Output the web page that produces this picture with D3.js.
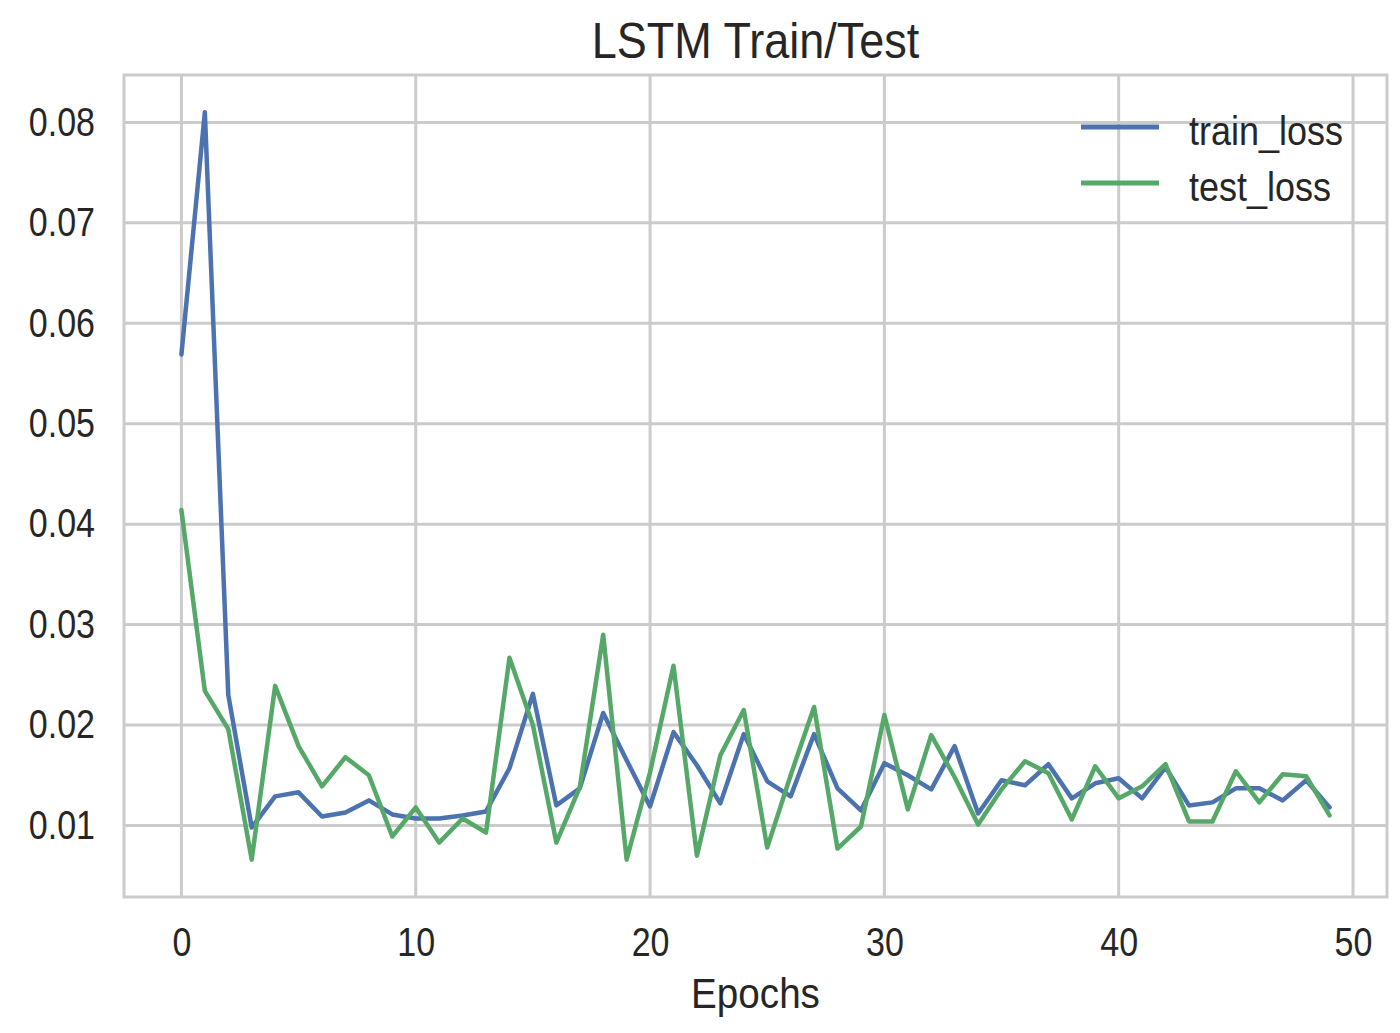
<!DOCTYPE html>
<html lang="en">
<head>
<meta charset="UTF-8">
<title>LSTM Train/Test</title>
<script src="https://d3js.org/d3.v7.min.js"></script>
<style>
  body { margin: 0; background: #fff; }
  svg { display: block; }
  text { font-family: "Liberation Sans", Arial, sans-serif; fill: #262626; }
  .grid line { stroke: #cbcbcb; stroke-width: 3; }
  .axis path, .axis line { display: none; }
</style>
</head>
<body>
<script>
// values, one per epoch
var trainLoss = [0.0569, 0.0810, 0.0230, 0.0098, 0.0129, 0.0133, 0.0109, 0.0113, 0.0125, 0.0111,
                 0.0107, 0.0107, 0.0110, 0.0114, 0.0157, 0.0231, 0.0120, 0.0137, 0.0212, 0.0165,
                 0.0119, 0.0193, 0.0160, 0.0122, 0.0191, 0.0144, 0.0129, 0.0191, 0.0137, 0.0115,
                 0.0162, 0.0150, 0.0136, 0.0179, 0.0112, 0.0145, 0.0140, 0.0161, 0.0127, 0.0142,
                 0.0147, 0.0127, 0.0158, 0.0120, 0.0123, 0.0137, 0.0137, 0.0125, 0.0145, 0.0118];
var testLoss  = [0.0414, 0.0234, 0.0196, 0.0066, 0.0239, 0.0179, 0.0139, 0.0168, 0.0150, 0.0089,
                 0.0118, 0.0083, 0.0107, 0.0093, 0.0267, 0.0200, 0.0083, 0.0138, 0.0290, 0.0066,
                 0.0153, 0.0259, 0.0070, 0.0170, 0.0215, 0.0078, 0.0150, 0.0218, 0.0077, 0.0099,
                 0.0210, 0.0116, 0.0190, 0.0148, 0.0101, 0.0136, 0.0164, 0.0152, 0.0106, 0.0159,
                 0.0127, 0.0139, 0.0161, 0.0104, 0.0104, 0.0154, 0.0123, 0.0151, 0.0149, 0.0110];
var seriesNames = ["train_loss", "test_loss"];
var xTicks = [0, 10, 20, 30, 40, 50];
var yTicks = [0.01, 0.02, 0.03, 0.04, 0.05, 0.06, 0.07, 0.08];

var W = 1400, H = 1033;
var margin = {top: 75, right: 13, bottom: 136, left: 124},
    w = W - margin.left - margin.right,
    h = H - margin.top - margin.bottom;
var colors = ["#4c72b0", "#55a868"];

var n = trainLoss.length;
var all = trainLoss.concat(testLoss);
var ymin = d3.min(all), ymax = d3.max(all);
var padX = 0.05 * (n - 1), padY = 0.05 * (ymax - ymin);

var x = d3.scaleLinear().domain([-padX, n - 1 + padX]).range([0, w]);
var y = d3.scaleLinear().domain([ymin - padY, ymax + padY]).range([h, 0]);

var svg = d3.select("body").append("svg")
    .attr("width", W)
    .attr("height", H);
var g = svg.append("g")
    .attr("transform", "translate(" + margin.left + "," + margin.top + ")");

// grid
g.append("g").attr("class", "grid")
  .selectAll("line.v").data(xTicks).enter().append("line")
    .attr("x1", function(d) { return x(d); }).attr("x2", function(d) { return x(d); })
    .attr("y1", 0).attr("y2", h);
g.select(".grid")
  .selectAll("line.h").data(yTicks).enter().append("line")
    .attr("y1", function(d) { return y(d); }).attr("y2", function(d) { return y(d); })
    .attr("x1", 0).attr("x2", w);

g.append("rect")
  .attr("width", w).attr("height", h)
  .attr("fill", "none").attr("stroke", "#cbcbcb").attr("stroke-width", 3);

// axes (labels only)
var xAxis = d3.axisBottom(x).tickValues(xTicks).tickSize(0).tickPadding(31).tickFormat(d3.format("d"));
var yAxis = d3.axisLeft(y).tickValues(yTicks).tickSize(0).tickFormat(d3.format(".2f"));

g.append("g").attr("class", "x axis")
  .attr("transform", "translate(0," + h + ")")
  .call(xAxis)
  .selectAll("text")
    .style("font-size", "40px")
    .attr("transform", "scale(0.85,1)");

g.append("g").attr("class", "y axis")
  .call(yAxis)
  .selectAll("text")
    .style("font-size", "40px")
    .attr("x", -29 / 0.85)
    .attr("transform", "scale(0.85,1)");

g.selectAll(".axis text").attr("fill", "#262626").style("font-family", "'Liberation Sans', Arial, sans-serif");

// lines
var line = d3.line()
  .x(function(d, i) { return x(i); })
  .y(function(d) { return y(d); });

[trainLoss, testLoss].forEach(function(s, k) {
  g.append("path")
    .datum(s)
    .attr("fill", "none")
    .attr("stroke", colors[k])
    .attr("stroke-width", 4.5)
    .attr("stroke-linejoin", "round")
    .attr("stroke-linecap", "round")
    .attr("d", line);
});

// title + x label
svg.append("g")
  .attr("transform", "translate(" + (margin.left + w / 2) + ",58)")
  .append("text")
    .attr("text-anchor", "middle")
    .attr("transform", "scale(0.9,1)")
    .style("font-size", "50px")
    .text("LSTM Train/Test");

svg.append("g")
  .attr("transform", "translate(" + (margin.left + w / 2) + ",1008)")
  .append("text")
    .attr("text-anchor", "middle")
    .attr("transform", "scale(0.92,1)")
    .style("font-size", "42px")
    .text("Epochs");

// legend
var legend = g.append("g")
  .attr("transform", "translate(" + (w - 306) + ",52)");
seriesNames.forEach(function(name, k) {
  var row = legend.append("g").attr("transform", "translate(0," + (k * 56) + ")");
  row.append("line")
    .attr("x1", 0).attr("x2", 78)
    .attr("stroke", colors[k]).attr("stroke-width", 5);
  row.append("g").attr("transform", "translate(108,18)")
    .append("text")
      .attr("transform", "scale(0.9,1)")
      .style("font-size", "40px")
      .text(name);
});
</script>
</body>
</html>
